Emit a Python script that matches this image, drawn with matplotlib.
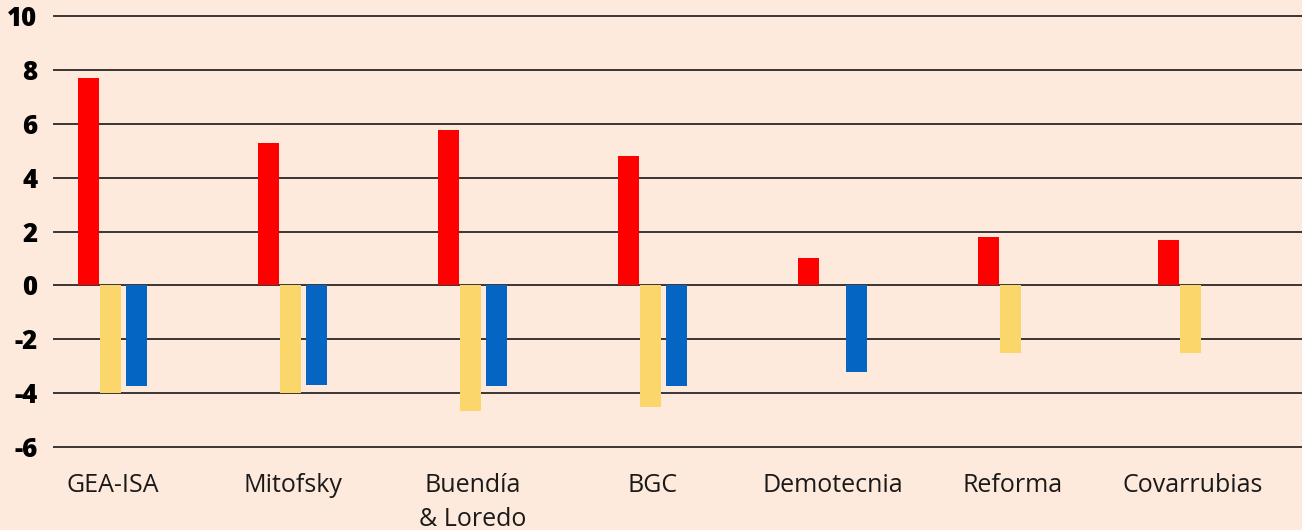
import numpy as np
import matplotlib
matplotlib.use("Agg")
import matplotlib.pyplot as plt

# values
pollsters = ["GEA-ISA", "Mitofsky", "Buendía\n& Loredo", "BGC", "Demotecnia", "Reforma", "Covarrubias"]
red_vals = [7.7, 5.3, 5.75, 4.8, 1.0, 1.8, 1.7]
yellow_vals = [-4.0, -4.0, -4.65, -4.5, np.nan, -2.5, -2.5]
blue_vals = [-3.75, -3.7, -3.75, -3.75, -3.2, np.nan, np.nan]

y_ticks = [-6, -4, -2, 0, 2, 4, 6, 8, 10]

bg = "#FDEADC"
plt.rcParams["font.family"] = ["Open Sans", "DejaVu Sans"]

fig = plt.figure(figsize=(13.02, 5.30), dpi=100, facecolor=bg)
ax = fig.add_axes([54 / 1302, 83 / 530, 1248 / 1302, 431 / 530])
ax.set_facecolor(bg)

x = np.arange(len(pollsters))
w = 0.115
# slot offsets (red, yellow, blue) as laid out in the original
ax.bar(x - 0.133, red_vals, w, color="#FF0000", zorder=3)
ax.bar(x - 0.012, yellow_vals, w, color="#FBD76B", zorder=3)
ax.bar(x + 0.133, blue_vals, w, color="#0565C2", zorder=3)

ax.set_xlim(-0.325, -0.325 + 1248 / 180)
ax.set_ylim(-6, 10)
ax.set_yticks(y_ticks)
ax.set_yticklabels([str(t) for t in y_ticks], fontsize=18.5, fontweight="heavy")
for t in y_ticks:
    ax.axhline(t, color="#3a3633", lw=1.4, zorder=1, clip_on=False)

ax.set_xticks(x)
ax.set_xticklabels(pollsters, fontsize=18, color="#1a1a1a", linespacing=1.45)
ax.tick_params(axis="x", length=0, pad=19)
ax.tick_params(axis="y", length=0, pad=12)
for s in ax.spines.values():
    s.set_visible(False)

fig.savefig("out.png", dpi=100, facecolor=bg)
